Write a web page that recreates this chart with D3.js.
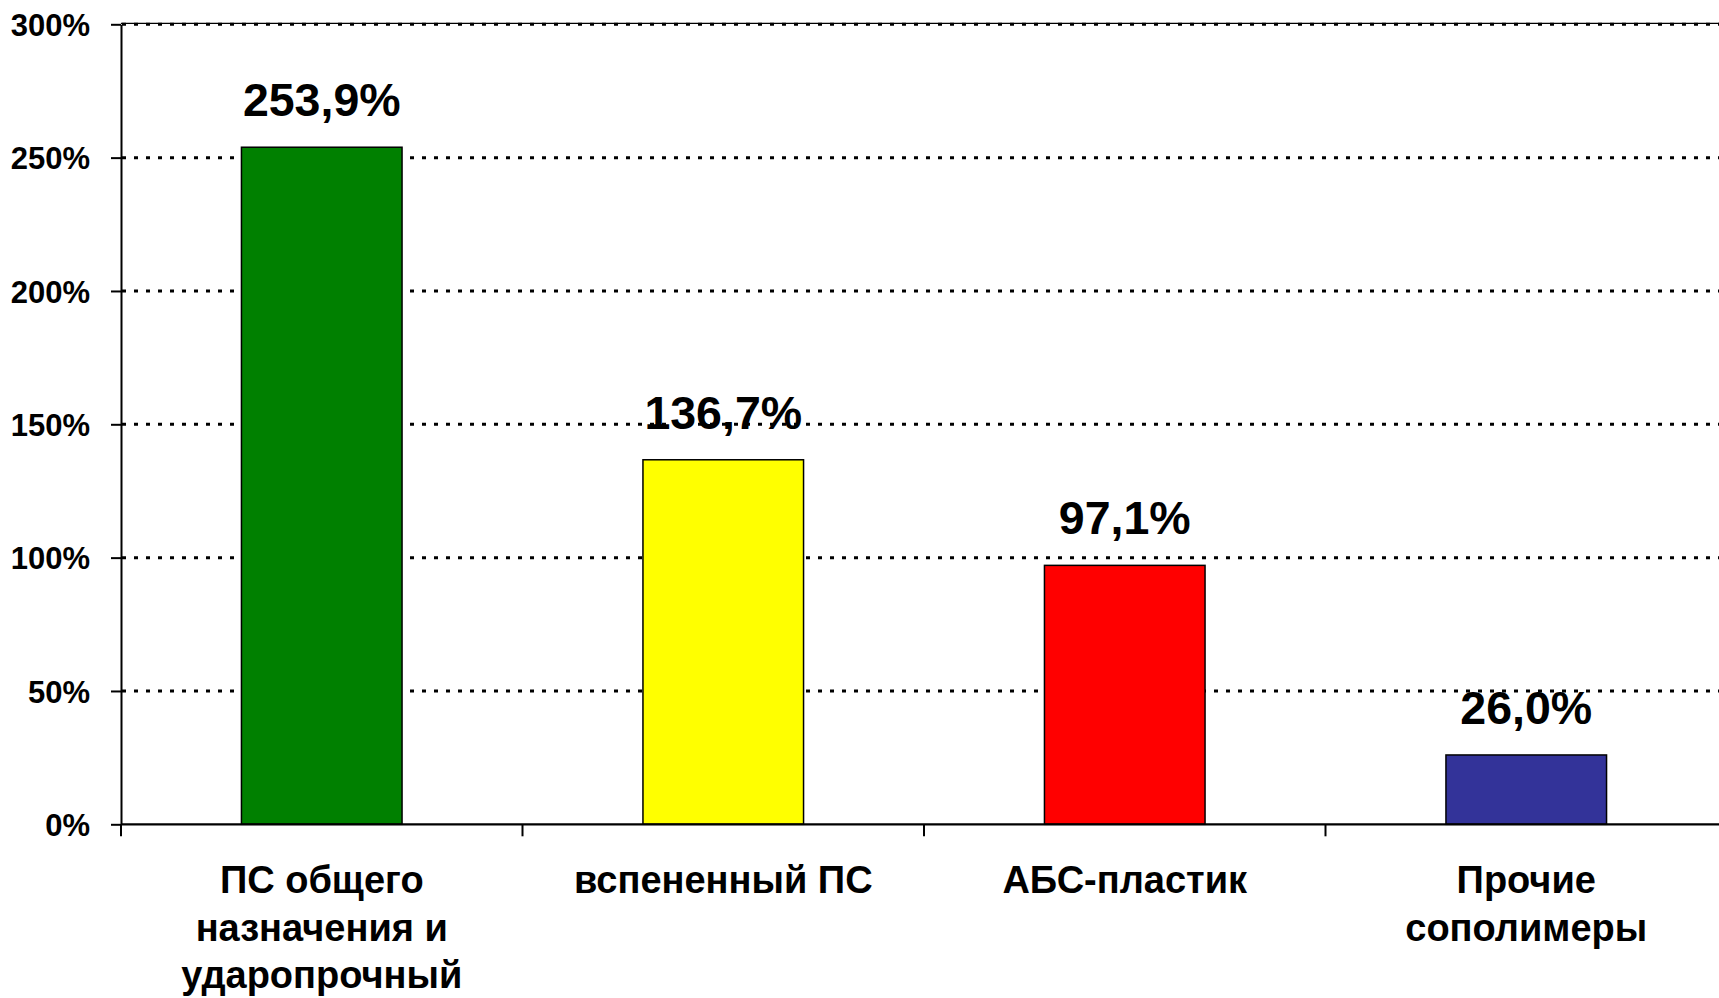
<!DOCTYPE html>
<html>
<head>
    <meta charset="utf-8">
    <title>Полистирол</title>
    <style>
        body { margin: 0; background: #fff; }
        text { font-family: "Liberation Sans", Arial, sans-serif; font-weight: bold; fill: #000; }
    </style>
</head>
<body>
    <svg width="1719" height="998"></svg>
    <script src="https://d3js.org/d3.v7.min.js"></script>
    <script>
        // data
        const categories = ['ПС общего\nназначения и\nударопрочный', 'вспененный ПС', 'АБС-пластик', 'Прочие\nсополимеры'];
        const values = [253.9, 136.7, 97.1, 26.0];
        const colors = ['#008000', '#FFFF00', '#FF0000', '#333399'];
        const yTicks = [0, 50, 100, 150, 200, 250, 300];

        const svg = d3.select('svg');
        const width = +svg.attr('width');
        const height = +svg.attr('height');
        const plotLeft = 121, plotTop = 24.3, plotBottom = 824.3;

        const data = categories.map((c, i) => ({ cat: c, value: values[i], color: colors[i] }));

        const x = d3.scaleBand()
            .domain(categories)
            .range([plotLeft, 1727])
            .paddingInner(0.6)
            .paddingOuter(0.3);
        const y = d3.scaleLinear().domain([0, 300]).range([plotBottom, plotTop]);

        const ru = d3.formatLocale({ decimal: ',', thousands: ' ', grouping: [3], currency: ['', ''] });
        const fmt = d => ru.format('.1f')(d) + '%';

        // gridlines
        svg.append('g').selectAll('line').data(yTicks.slice(1))
            .join('line')
            .attr('x1', plotLeft + 1).attr('x2', width)
            .attr('y1', d => y(d)).attr('y2', d => y(d))
            .attr('stroke', '#000').attr('stroke-width', 3)
            .attr('stroke-dasharray', '4,8');
        svg.append('line')
            .attr('x1', plotLeft).attr('x2', width)
            .attr('y1', y(300) - 1).attr('y2', y(300) - 1)
            .attr('stroke', '#000').attr('stroke-width', 1.2);

        // bars
        svg.append('g').selectAll('rect').data(data)
            .join('rect')
            .attr('x', d => x(d.cat))
            .attr('y', d => y(d.value))
            .attr('width', x.bandwidth())
            .attr('height', d => y(0) - y(d.value))
            .attr('fill', d => d.color)
            .attr('stroke', '#000').attr('stroke-width', 1.5);

        // value labels
        svg.append('g').selectAll('text').data(data)
            .join('text')
            .attr('x', d => x(d.cat) + x.bandwidth() / 2)
            .attr('y', d => y(d.value) - 31)
            .attr('text-anchor', 'middle')
            .style('font-size', '46.5px')
            .text(d => fmt(d.value));

        // y axis
        const yAxis = svg.append('g')
            .attr('transform', `translate(${plotLeft},0)`)
            .call(d3.axisLeft(y).tickValues(yTicks).tickSize(10).tickSizeOuter(0).tickPadding(21)
                .tickFormat(d => d + '%'));
        yAxis.select('.domain').attr('stroke-width', 2);
        yAxis.selectAll('.tick line').attr('stroke-width', 2);
        yAxis.selectAll('.tick text')
            .style('font-size', '31px')
            .attr('dy', '0.36em');

        // x axis
        svg.append('line')
            .attr('x1', plotLeft).attr('x2', width)
            .attr('y1', y(0)).attr('y2', y(0))
            .attr('stroke', '#000').attr('stroke-width', 2.2);
        const gap = (x.step() - x.bandwidth()) / 2;
        svg.append('g').selectAll('line').data(categories)
            .join('line')
            .attr('x1', d => x(d) - gap).attr('x2', d => x(d) - gap)
            .attr('y1', y(0)).attr('y2', y(0) + 12)
            .attr('stroke', '#000').attr('stroke-width', 2);

        const catText = svg.append('g').selectAll('text').data(categories)
            .join('text')
            .attr('text-anchor', 'middle')
            .style('font-size', '38px');
        catText.each(function (d) {
            const cx = x(d) + x.bandwidth() / 2;
            d3.select(this).selectAll('tspan').data(d.split('\n'))
                .join('tspan')
                .attr('x', cx)
                .attr('y', (s, i) => 893 + i * 47.5)
                .text(s => s);
        });
    </script>
</body>
</html>
